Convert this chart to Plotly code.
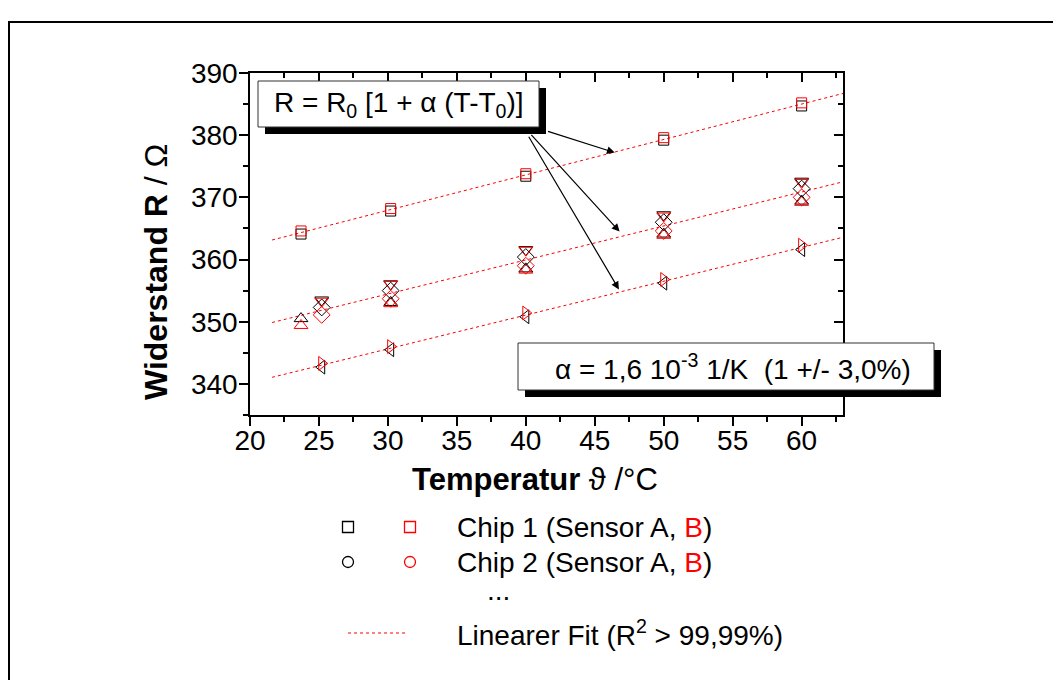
import numpy as np
import plotly.graph_objects as go

# ---------------- data ----------------
x_sq = [23.7, 30.2, 40.0, 50.0, 60.0]
sq_A = [364.1, 367.8, 373.4, 379.2, 384.7]
sq_B = [364.6, 368.2, 373.8, 379.6, 385.2]

x_tu = [23.7, 30.2, 40.0, 50.0, 60.0]
tu_A = [350.5, 353.1, 358.5, 364.1, 369.4]
tu_B = [349.4, 352.9, 358.3, 363.9, 369.2]

x_mid = [25.2, 30.2, 40.0, 50.0, 60.0]
td_A = [353.5, 356.1, 361.6, 367.2, 372.6]
td_B = [353.3, 356.0, 361.5, 367.0, 372.4]
di_A = [352.3, 355.0, 360.4, 366.0, 371.4]
di_B = [351.1, 353.7, 359.0, 364.6, 370.0]

x_low = [25.2, 30.2, 40.0, 50.0, 60.0]
tr_B = [343.3, 346.0, 351.4, 356.8, 362.3]
tl_A = [342.7, 345.5, 350.8, 356.2, 361.6]

fit_range = [21.6, 63.0]

# arrows: (head_x, head_y, tail_x, tail_y) in data units
arrows = [(46.45, 377.2, 41.5, 380.7),
          (46.8, 364.5, 40.3, 380.3),
          (46.75, 355.2, 40.15, 380.0)]

BLACK = "#000000"
RED = "#FF0000"
FONT = "Arial, 'Liberation Sans', sans-serif"

# ---------------- geometry ----------------
# page body has an 8px margin: screen = figure + 8
OFF = 8
W, H = 1061 - OFF, 680 - OFF
# plot area in screen pixels
L, R, T, B = 250, 843, 73, 415


def px(xs):
    return (xs - L) / (R - L)


def py(ys):
    return (B - ys) / (B - T)


fig = go.Figure()


def add_pts(x, y, sym, col, size=11):
    fig.add_trace(go.Scatter(x=x, y=y, mode="markers",
                             marker=dict(symbol=sym, size=size, color=col,
                                         line=dict(width=1, color=col)),
                             hoverinfo="skip"))


# fit lines
groups = [
    (x_sq + x_sq, sq_A + sq_B),
    (x_tu + x_tu + x_mid * 4, tu_A + tu_B + td_A + td_B + di_A + di_B),
    (x_low + x_low, tr_B + tl_A),
]
for gx, gy in groups:
    k, d = np.polyfit(gx, gy, 1)
    xs = np.array(fit_range)
    fig.add_trace(go.Scatter(x=xs, y=k * xs + d, mode="lines",
                             line=dict(color=RED, width=1, dash="dot"),
                             hoverinfo="skip"))

add_pts(x_sq, sq_A, "square-open", BLACK, 10)
add_pts(x_sq, sq_B, "square-open", RED, 10)
add_pts(x_tu, tu_A, "triangle-up-open", BLACK, 12)
add_pts(x_tu, tu_B, "triangle-up-open", RED, 12)
add_pts(x_mid, td_A, "triangle-down-open", BLACK, 12)
add_pts(x_mid, td_B, "triangle-down-open", RED, 12)
add_pts(x_mid, di_A, "diamond-open", BLACK, 13)
add_pts(x_mid, di_B, "diamond-open", RED, 13)
add_pts(x_low, tl_A, "triangle-left-open", BLACK, 12)
add_pts(x_low, tr_B, "triangle-right-open", RED, 12)

# empty traces to activate the extra tick-only axes
fig.add_trace(go.Scatter(x=[], y=[], xaxis="x2", yaxis="y2", showlegend=False))
fig.add_trace(go.Scatter(x=[], y=[], xaxis="x3", yaxis="y3", showlegend=False))

axis_common = dict(showgrid=False, zeroline=False, showline=True,
                   linecolor=BLACK, linewidth=1.5, tickcolor=BLACK,
                   tickwidth=1.5)
XR = [20, 63]
YR = [335, 390]
tickfont = dict(size=28, family=FONT, color=BLACK)

fig.update_layout(
    width=W, height=H,
    margin=dict(l=L - OFF, r=W - (R - OFF), t=T - OFF, b=H - (B - OFF), pad=0),
    paper_bgcolor="white", plot_bgcolor="white",
    showlegend=False,
    font=dict(family=FONT, color=BLACK),
    # labelled axes (no tick marks, so the labels sit close)
    xaxis=dict(range=XR, tick0=20, dtick=5, ticks="", tickfont=tickfont,
               **axis_common),
    yaxis=dict(range=YR, tick0=340, dtick=10, ticks="", tickfont=tickfont,
               ticklabelstandoff=5, **axis_common),
    # top / right: inside ticks
    xaxis2=dict(range=XR, tick0=20, dtick=5, overlaying="x",
                side="top", anchor="y2", ticks="inside", ticklen=9,
                showticklabels=False,
                minor=dict(dtick=2.5, ticks="inside", ticklen=5,
                           tickcolor=BLACK, tickwidth=1.5),
                **axis_common),
    yaxis2=dict(range=YR, tick0=340, dtick=10, overlaying="y",
                side="right", anchor="x2", ticks="inside", ticklen=9,
                showticklabels=False,
                minor=dict(dtick=5, ticks="inside", ticklen=5,
                           tickcolor=BLACK, tickwidth=1.5),
                **axis_common),
    # bottom / left: outside tick marks
    xaxis3=dict(range=XR, tick0=20, dtick=5, overlaying="x",
                side="bottom", anchor="y3", ticks="outside", ticklen=9,
                showticklabels=False,
                minor=dict(dtick=2.5, ticks="outside", ticklen=5,
                           tickcolor=BLACK, tickwidth=1.5),
                **axis_common),
    yaxis3=dict(range=YR, tick0=340, dtick=10, overlaying="y",
                side="left", anchor="x3", ticks="outside", ticklen=9,
                showticklabels=False,
                minor=dict(dtick=5, ticks="outside", ticklen=5,
                           tickcolor=BLACK, tickwidth=1.5),
                **axis_common),
)

shapes = []
# outer frame (screen x 8..1057, top 22)
shapes.append(dict(type="rect", xref="paper", yref="paper",
                   x0=px(9), x1=px(1057), y0=py(720), y1=py(22),
                   line=dict(color=BLACK, width=2), fillcolor="rgba(0,0,0,0)",
                   layer="above"))


def shadow_box(x0, y0, x1, y1, off=7):
    shapes.append(dict(type="rect", xref="paper", yref="paper",
                       x0=px(x0 + off), x1=px(x1 + off),
                       y0=py(y1 + off), y1=py(y0 + off),
                       line=dict(width=0), fillcolor=BLACK, layer="above"))
    shapes.append(dict(type="rect", xref="paper", yref="paper",
                       x0=px(x0), x1=px(x1), y0=py(y1), y1=py(y0),
                       line=dict(color="#333333", width=1),
                       fillcolor="white", layer="above"))


shadow_box(258, 81, 539, 127)
shadow_box(518, 343, 934, 390)


def sq_shape(cx, cy, col, s=11):
    shapes.append(dict(type="rect", xref="paper", yref="paper",
                       x0=px(cx - s / 2), x1=px(cx + s / 2),
                       y0=py(cy + s / 2), y1=py(cy - s / 2),
                       line=dict(color=col, width=1.3)))


def circ_shape(cx, cy, col, s=11):
    shapes.append(dict(type="circle", xref="paper", yref="paper",
                       x0=px(cx - s / 2), x1=px(cx + s / 2),
                       y0=py(cy + s / 2), y1=py(cy - s / 2),
                       line=dict(color=col, width=1.3)))


sq_shape(348, 527, BLACK)
sq_shape(410, 527, RED)
circ_shape(348, 562, BLACK)
circ_shape(410, 562, RED)
shapes.append(dict(type="line", xref="paper", yref="paper",
                   x0=px(348), x1=px(407), y0=py(633), y1=py(633),
                   line=dict(color=RED, width=1, dash="dot")))

fig.update_layout(shapes=shapes)

ann = []
for hx, hy, tx, ty in arrows:
    ann.append(dict(x=hx, y=hy, ax=tx, ay=ty, xref="x", yref="y",
                    axref="x", ayref="y", text="", showarrow=True,
                    arrowhead=2, arrowsize=1.3, arrowwidth=1.2,
                    arrowcolor=BLACK, standoff=0))

box_font = dict(size=28, family=FONT, color=BLACK)
ann.append(dict(x=px(399), y=py(104), xref="paper", yref="paper",
                text="R = R<sub>0</sub> [1 + α (T-T<sub>0</sub>)]",
                showarrow=False, font=box_font,
                xanchor="center", yanchor="middle"))
ann.append(dict(x=px(733), y=py(367), xref="paper", yref="paper",
                text="α = 1,6 10<sup>-3</sup> 1/K  (1 +/- 3,0%)",
                showarrow=False, font=box_font,
                xanchor="center", yanchor="middle"))

# axis titles
ann.append(dict(x=px(535), y=py(479), xref="paper", yref="paper",
                text="<b>Temperatur</b> ϑ /°C", showarrow=False,
                font=dict(size=31, family=FONT, color=BLACK),
                xanchor="center", yanchor="middle"))
ann.append(dict(x=px(156), y=py(272), xref="paper", yref="paper",
                text="<b>Widerstand R</b> / Ω", showarrow=False,
                textangle=-90,
                font=dict(size=32, family=FONT, color=BLACK),
                xanchor="center", yanchor="middle"))

# legend texts
leg_font = dict(size=28, family=FONT, color=BLACK)
ann.append(dict(x=px(455), y=py(527), xref="paper", yref="paper",
                text="Chip 1 (Sensor A, <span style='color:#FF0000'>B</span>)",
                showarrow=False, font=leg_font, xanchor="left",
                yanchor="middle"))
ann.append(dict(x=px(455), y=py(562), xref="paper", yref="paper",
                text="Chip 2 (Sensor A, <span style='color:#FF0000'>B</span>)",
                showarrow=False, font=leg_font, xanchor="left",
                yanchor="middle"))
ann.append(dict(x=px(498), y=py(590), xref="paper", yref="paper",
                text="...", showarrow=False, font=leg_font,
                xanchor="center", yanchor="middle"))
ann.append(dict(x=px(455), y=py(633), xref="paper", yref="paper",
                text="Linearer Fit (R<sup>2</sup> &gt; 99,99%)",
                showarrow=False, font=leg_font, xanchor="left",
                yanchor="middle"))

fig.update_layout(annotations=ann)

fig.write_html("out.html")
